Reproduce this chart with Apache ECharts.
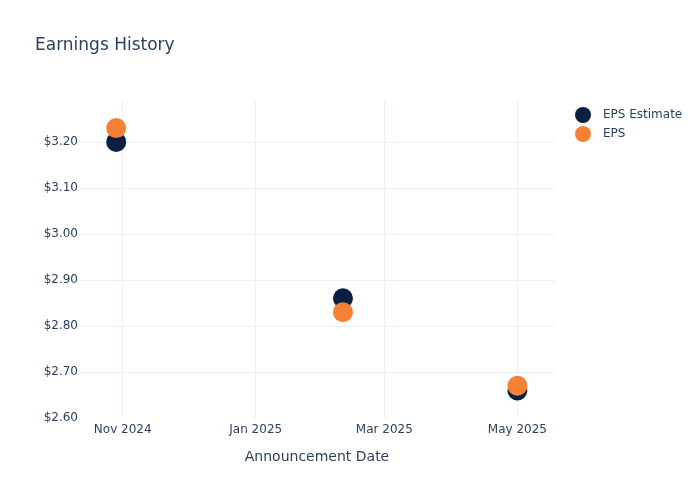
<!DOCTYPE html>
<html>
<head>
<meta charset="utf-8">
<script src="https://cdn.jsdelivr.net/npm/echarts@6/dist/echarts.min.js"></script>
<style>
html,body{margin:0;padding:0;background:#fff;}
#chart{width:700px;height:500px;}
</style>
</head>
<body>
<div id="chart"></div>
<script>
const dates = ['2024-10-29', '2025-02-10', '2025-05-01'];
const epsEstimate = [3.20, 2.86, 2.66];
const epsActual = [3.23, 2.83, 2.67];
const xTickDates = ['2024-11-01', '2025-01-01', '2025-03-01', '2025-05-01'];
const monthNames = ['Jan','Feb','Mar','Apr','May','Jun','Jul','Aug','Sep','Oct','Nov','Dec'];

const toTs = s => { const [y,m,d] = s.split('-').map(Number); return new Date(y, m-1, d).getTime(); };
const xTicks = xTickDates.map(toTs);
const DAY = 86400000;
const xMin = toTs('2024-11-01') - 19.6 * DAY;
const xMax = toTs('2025-05-01') + 16.8 * DAY;

const font = 'DejaVu Sans, Verdana, sans-serif';
const textColor = '#2a3f5f';
const gridColor = '#EBF0F8';

const chart = echarts.init(document.getElementById('chart'), null, {renderer: 'canvas'});
chart.setOption({
  animation: false,
  backgroundColor: '#fff',
  title: {
    text: 'Earnings History',
    left: 35, top: 37, padding: 0,
    textStyle: {fontFamily: font, fontSize: 17, fontWeight: 'normal', color: textColor}
  },
  legend: {
    orient: 'vertical',
    left: 570, top: 102,
    itemWidth: 30, itemHeight: 16, itemGap: 3,
    icon: 'circle',
    textStyle: {fontFamily: font, fontSize: 12, color: textColor},
    data: ['EPS Estimate', 'EPS']
  },
  grid: {left: 80, right: 146, top: 100, bottom: 82, containLabel: false},
  xAxis: {
    type: 'value',
    min: xMin, max: xMax,
    name: 'Announcement Date',
    nameLocation: 'middle',
    nameGap: 32,
    nameTextStyle: {fontFamily: font, fontSize: 14, color: textColor},
    axisLine: {show: false},
    axisTick: {show: false, customValues: xTicks},
    axisLabel: {
      customValues: xTicks,
      margin: 6,
      fontFamily: font, fontSize: 12, color: textColor,
      formatter: v => { const d = new Date(v); return monthNames[d.getMonth()] + ' ' + d.getFullYear(); }
    },
    splitLine: {show: true, lineStyle: {color: gridColor, width: 1}}
  },
  yAxis: {
    type: 'value',
    min: 2.6, max: 3.291, interval: 0.1,
    axisLine: {show: false},
    axisTick: {show: false},
    axisLabel: {
      margin: 2, showMaxLabel: false,
      padding: [3, 0, 0, 0],
      fontFamily: font, fontSize: 12, color: textColor,
      formatter: v => '$' + v.toFixed(2)
    },
    splitLine: {show: true, showMinLine: false, showMaxLine: false, lineStyle: {color: gridColor, width: 1}}
  },
  series: [
    {
      name: 'EPS Estimate', type: 'scatter', symbolSize: 20,
      itemStyle: {color: '#0b1f41', opacity: 1},
      data: dates.map((d, i) => [toTs(d), epsEstimate[i]])
    },
    {
      name: 'EPS', type: 'scatter', symbolSize: 20,
      itemStyle: {color: '#f58136', opacity: 1},
      data: dates.map((d, i) => [toTs(d), epsActual[i]])
    }
  ]
});
</script>
</body>
</html>
